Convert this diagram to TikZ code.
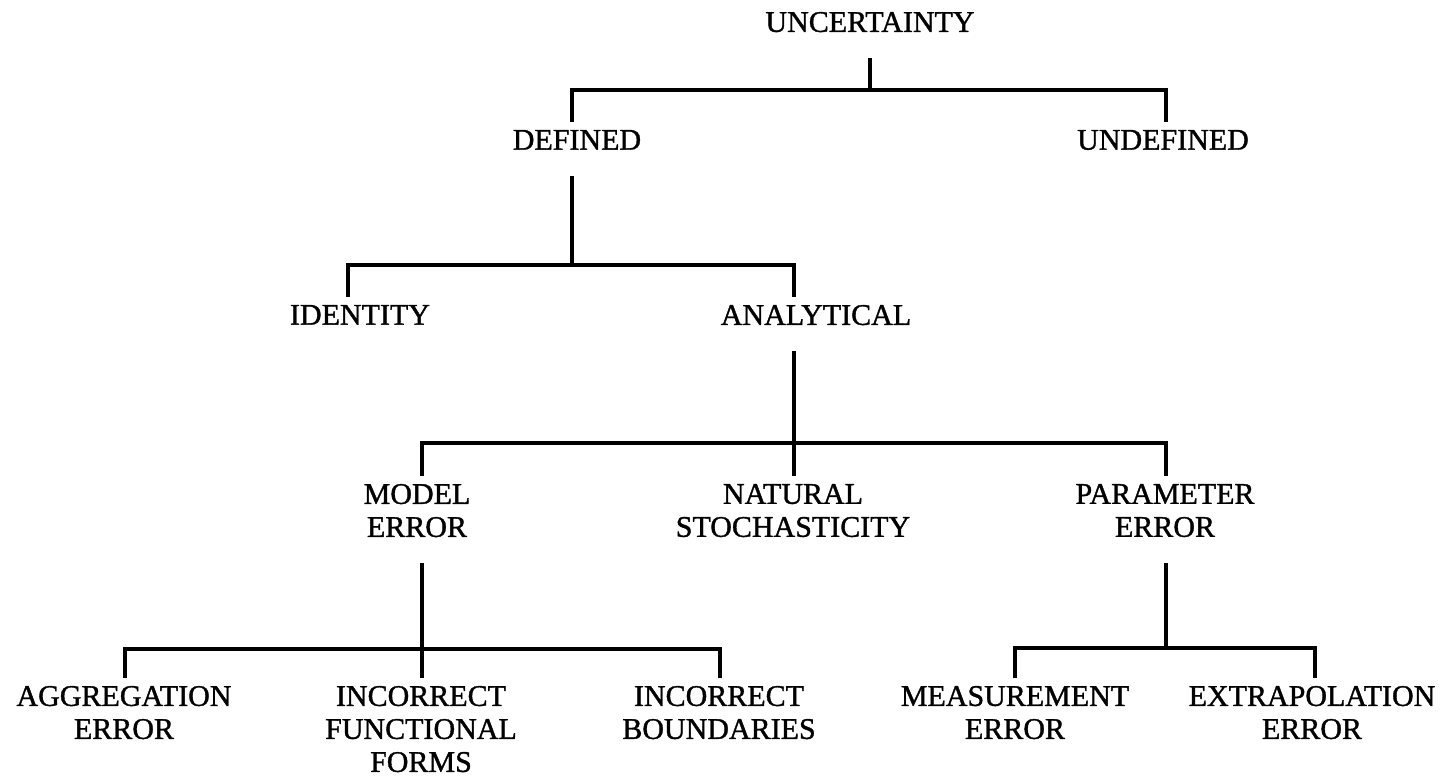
\documentclass[tikz,border=0pt]{standalone}
\usepackage{fontspec}
\setmainfont{Liberation Serif}
\newfontfamily\treefont[FakeBold=1.2]{Liberation Serif}
\tikzset{
  tree diagram/.style={
    x=0.5pt, y=-0.5pt, draw=black, line width=2pt,
    every node/.style={font=\treefont\fontsize{15}{16.5}\selectfont,
      text=black, inner sep=0pt, outer sep=0pt, anchor=north, align=center}
  },
  tree stem/.style={shorten <=13pt},
  tree fork/.style={shorten <=4pt, shorten >=4pt, line join=miter}
}
% bar between two children, dropping onto both
\newcommand{\TreeBar}[2]{%
  \draw[tree fork] (#1Drop |- #1.north) -- (#1Drop) -- (#2Drop) -- (#2Drop |- #2.north);
}
\begin{document}
\begin{tikzpicture}[tree diagram]
    \useasboundingbox (0,0) rectangle (1440,778);
    % nodes
    \node (unc) at (870,12) {UNCERTAINTY};
    \node (def) at (577,130) {DEFINED};
    \node (undef) at (1163,130) {UNDEFINED};
    \node (ident) at (360,305) {IDENTITY};
    \node (ana) at (816,305) {ANALYTICAL};
    \node (model) at (417,484) {MODEL\\ERROR};
    \node (natural) at (793,484) {NATURAL\\STOCHASTICITY};
    \node (param) at (1165,484) {PARAMETER\\ERROR};
    \node (agg) at (124,686) {AGGREGATION\\ERROR};
    \node (func) at (421,686) {INCORRECT\\FUNCTIONAL\\FORMS};
    \node (bound) at (719,686) {INCORRECT\\BOUNDARIES};
    \node (meas) at (1015,686) {MEASUREMENT\\ERROR};
    \node (extra) at (1312,686) {EXTRAPOLATION\\ERROR};
    % junctions
    \coordinate (uncFork) at (870,90);
    \coordinate (defDrop) at (572,90);
    \coordinate (undefDrop) at (1166,90);
    \coordinate (defFork) at (572,265);
    \coordinate (identDrop) at (348,265);
    \coordinate (anaDrop) at (794,265);
    \coordinate (anaFork) at (794,443);
    \coordinate (modelDrop) at (422,443);
    \coordinate (naturalDrop) at (794,443);
    \coordinate (paramDrop) at (1166,443);
    \coordinate (modelFork) at (422,649);
    \coordinate (aggDrop) at (125,649);
    \coordinate (funcDrop) at (422,649);
    \coordinate (boundDrop) at (720,649);
    \coordinate (paramFork) at (1166,648);
    \coordinate (measDrop) at (1015,648);
    \coordinate (extraDrop) at (1315,648);
    % stems
    \draw[tree stem] (uncFork |- unc.south) -- (uncFork);
    \draw[tree stem] (defFork |- def.south) -- (defFork);
    \draw[tree stem] (anaFork |- ana.south) -- (anaFork);
    \draw[tree stem] (modelFork |- model.south) -- (modelFork);
    \draw[tree stem] (paramFork |- param.south) -- (paramFork);
    % bars
    \TreeBar{def}{undef}
    \TreeBar{ident}{ana}
    \TreeBar{model}{param}
    \draw[shorten >=4pt] (naturalDrop) -- (naturalDrop |- natural.north);
    \TreeBar{agg}{bound}
    \draw[shorten >=4pt] (funcDrop) -- (funcDrop |- func.north);
    \TreeBar{meas}{extra}
  \end{tikzpicture}
\end{document}
